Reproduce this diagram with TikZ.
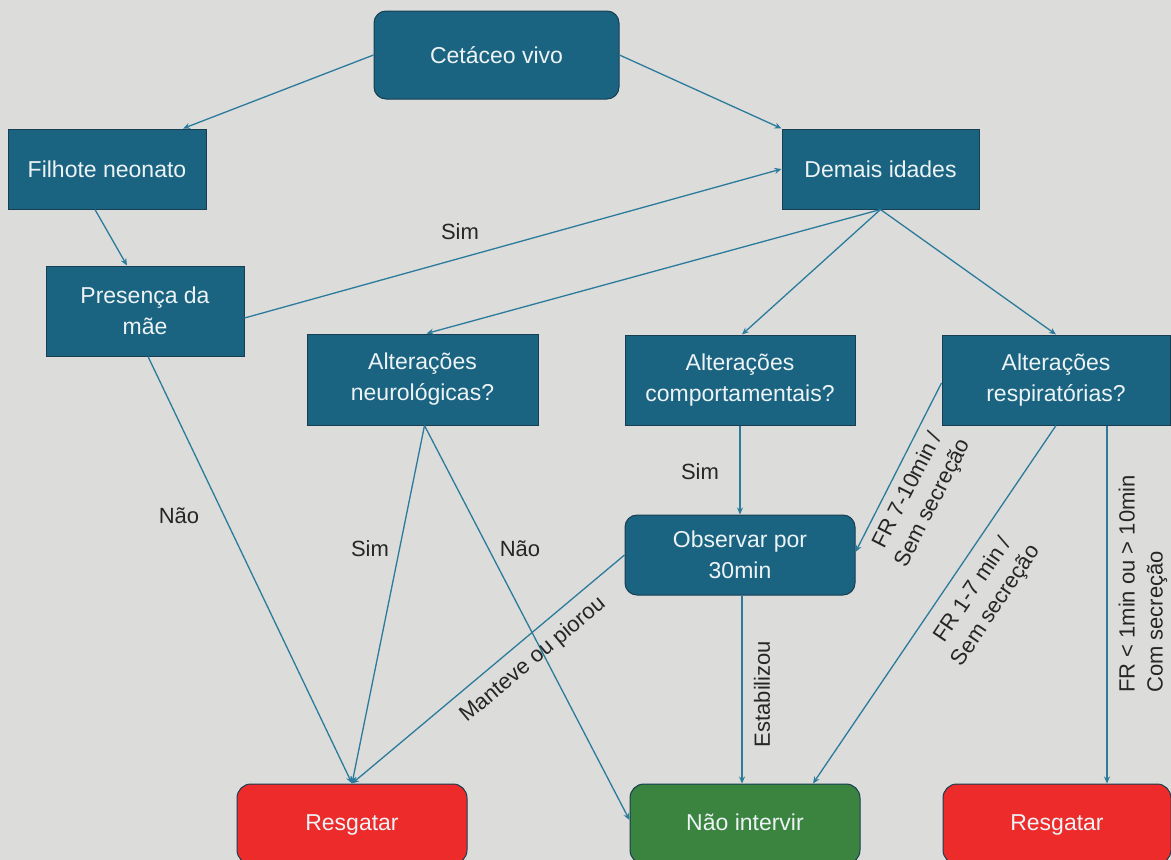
\documentclass[tikz,border=0pt]{standalone}
\usepackage{fontspec}
\setmainfont{Liberation Sans}
\usetikzlibrary{arrows.meta,calc}
\definecolor{bgc}{HTML}{DCDCDA}
\definecolor{boxb}{HTML}{1A6482}
\definecolor{boxe}{HTML}{173E52}
\definecolor{redb}{HTML}{EE2B2B}
\definecolor{greenb}{HTML}{3A8440}
\definecolor{linec}{HTML}{2A7B9C}
\begin{document}
\begin{tikzpicture}[x=1pt,y=-1pt,
  box/.style={draw=boxe,line width=1pt,fill=boxb,text=white!92!boxb,
    font=\fontsize{23}{31}\selectfont,align=center,inner sep=0pt},
  endbox/.style={box,minimum height=80pt,rounded corners=14pt,text height=17pt,text depth=5pt},
  conn/.style={draw=linec,line width=1.3pt,-{Stealth[length=7pt,width=6pt]}},
  lab/.style={font=\fontsize{22}{28}\selectfont,text=black!85}]
\useasboundingbox (0,0) rectangle (1171,860);
\fill[bgc] (0,0) rectangle (1171,860);
% nodes
\node[box,minimum width=245pt,minimum height=88pt,rounded corners=12pt] (cet) at (496.5,55) {Cetáceo vivo};
\node[box,minimum width=198pt,minimum height=80pt] (fil) at (107,169) {Filhote neonato};
\node[box,minimum width=197pt,minimum height=80pt] (dem) at (880.5,169) {Demais idades};
\node[box,minimum width=198pt,minimum height=90pt] (pre) at (145,311) {Presença da\\mãe};
\node[box,minimum width=231pt,minimum height=91pt] (neu) at (422.5,379.5) {Alterações\\neurológicas?};
\node[box,minimum width=230pt,minimum height=90pt] (com) at (740,380) {Alterações\\comportamentais?};
\node[box,minimum width=228pt,minimum height=90pt] (res) at (1056,380) {Alterações\\respiratórias?};
\node[box,minimum width=230pt,minimum height=80pt,rounded corners=12pt] (obs) at (740,555) {Observar por\\30min};
\node[endbox,fill=redb,minimum width=230pt] (rl) at (352,824) {Resgatar};
\node[endbox,fill=greenb,minimum width=230pt] (nao) at (745,824) {Não intervir};
\node[endbox,fill=redb,minimum width=228pt] (rr) at (1057,824) {Resgatar};
% connectors
\draw[conn] (cet.west) -- ([xshift=76pt]fil.north);
\draw[conn] (cet.east) -- (dem.north west);
\draw[conn] ([xshift=-12pt]fil.south) -- ([xshift=-18pt]pre.north);
\draw[conn] ([yshift=-7pt]pre.east) -- (dem.west);
\draw[conn] (dem.south) -- ([xshift=4pt]neu.north);
\draw[conn] (dem.south) -- ([xshift=2pt]com.north);
\draw[conn] (dem.south) -- (res.north);
\draw[conn] ([xshift=3pt]pre.south) -- (rl.north);
\draw[conn] ([xshift=2pt]neu.south) -- (rl.north);
\draw[conn] ([xshift=2pt]neu.south) -- ([yshift=4pt]nao.west);
\draw[conn] (com.south) -- (obs.north);
\draw[conn] (obs.west) -- (rl.north);
\draw[conn] ([xshift=2pt]obs.south) -- ([xshift=-3pt]nao.north);
\draw[conn] ([yshift=-3pt]res.west) -- ([yshift=3pt]obs.east);
\draw[conn] (res.south) -- ([xshift=68pt]nao.north);
\draw[conn] ([xshift=51pt]res.south) -- ([xshift=50pt]rr.north);
% labels
\node[lab] (l1) at (460,232) {Sim};
\node[lab] (l2) at (179,516) {Não};
\node[lab] (l3) at (370,549) {Sim};
\node[lab] (l4) at (520,549) {Não};
\node[lab] (l5) at (700,472) {Sim};
\node[lab,rotate=40] (l6) at (533,660) {Manteve ou piorou};
\node[lab,rotate=90] (l7) at (762,694) {Estabilizou};
\node[lab,rotate=63,align=center] (l8) at (921,497) {FR 7-10min /\\Sem secreção};
\node[lab,rotate=56,align=center] (l9) at (985,598) {FR 1-7 min /\\Sem secreção};
\node[lab,rotate=90,align=left] (l10) at (1143,584) {FR < 1min ou > 10min\\Com secreção};
\end{tikzpicture}
\end{document}
